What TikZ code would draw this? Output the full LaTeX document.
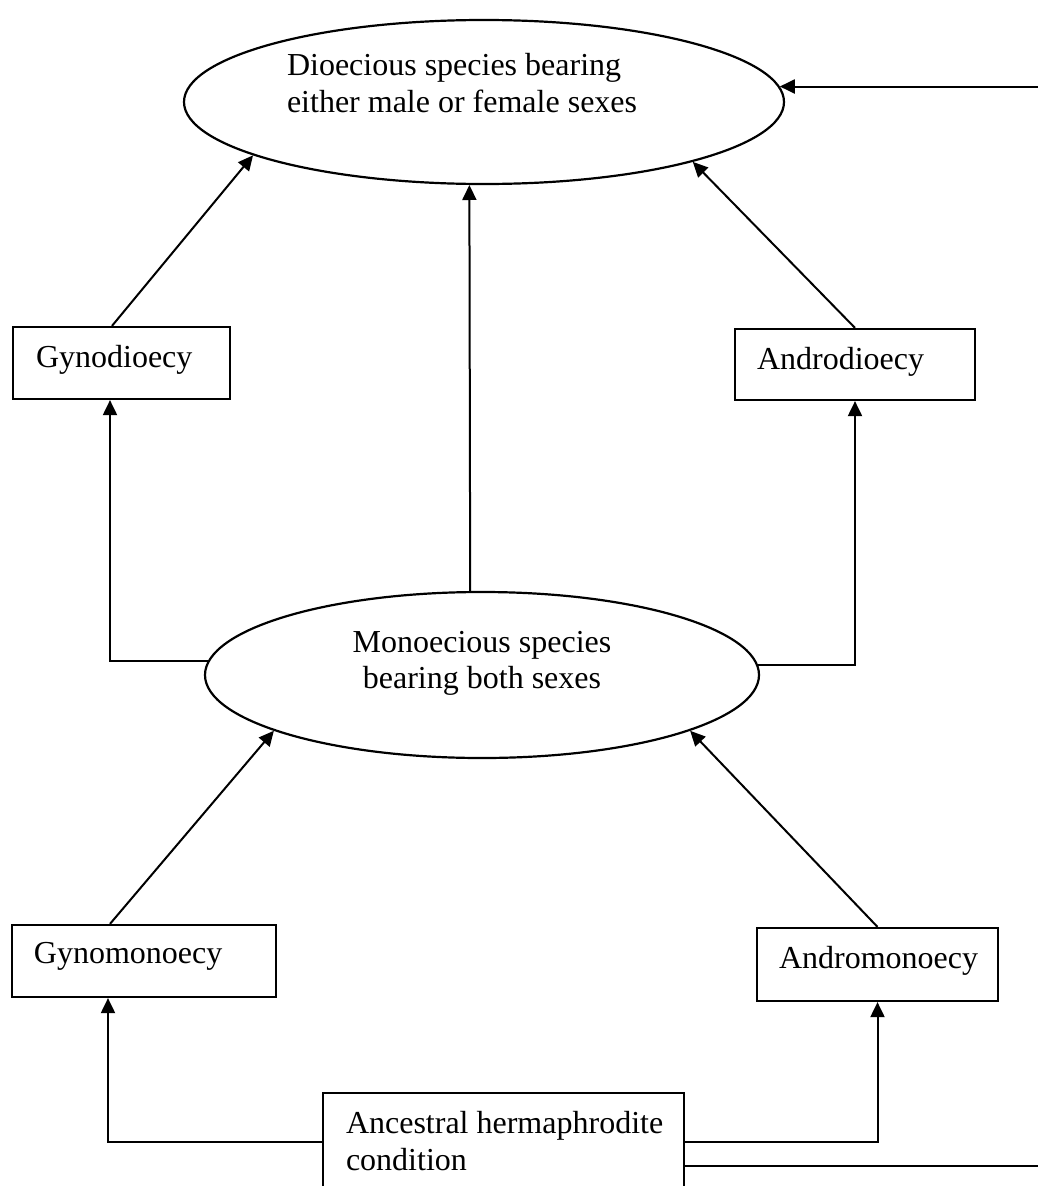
\documentclass[tikz,border=0pt]{standalone}
\usepackage{fontspec}
\setmainfont{Liberation Serif}
\usetikzlibrary{arrows.meta,shapes.geometric}
\begin{document}
\begin{tikzpicture}[x=1pt,y=-1pt,
  line width=2pt,
  arr/.style={-{Triangle[length=15pt,width=14pt]}},
  boxn/.style={draw, rectangle, inner sep=0pt, line width=2.2pt},
  ell/.style={draw, ellipse, inner sep=0pt, line width=2.2pt},
  lbl/.style={inner sep=0pt, font=\fontsize{32}{37}\selectfont}]
\useasboundingbox (0,0) rectangle (1038,1186);
\clip (0,0) rectangle (1038,1186);
\fill[white] (0,0) rectangle (1038,1186);

% shapes
\node[ell, minimum width=600pt, minimum height=164pt] (dio) at (484,102) {};
\node[ell, minimum width=554pt, minimum height=166pt] (mon) at (482,675) {};
\node[boxn, minimum width=217pt, minimum height=72pt] (gyd) at (121.5,363) {};
\node[boxn, minimum width=240pt, minimum height=71pt] (add) at (855,364.5) {};
\node[boxn, minimum width=264pt, minimum height=72pt] (gym) at (144,961) {};
\node[boxn, minimum width=241pt, minimum height=73pt] (adm) at (877.5,964.5) {};
\node[boxn, minimum width=361pt, minimum height=97pt] (anc) at (503.5,1141.5) {};

% texts
\node[lbl, anchor=base west] (dioA) at (286,75) {Dioecious species bearing};
\node[lbl, anchor=base west] (dioB) at (286,112) {either male or female sexes};
\node[lbl, anchor=base] (monA) at (482,652) {Monoecious species};
\node[lbl, anchor=base] (monB) at (482,688) {bearing both sexes};
\node[lbl, anchor=base west] (gydT) at (35,367) {Gynodioecy};
\node[lbl, anchor=base west] (addT) at (756,369) {Androdioecy};
\node[lbl, anchor=base west] (gymT) at (33,963) {Gynomonoecy};
\node[lbl, anchor=base west] (admT) at (778,968) {Andromonoecy};
\node[lbl, anchor=base west] (ancA) at (345,1133) {Ancestral hermaphrodite};
\node[lbl, anchor=base west] (ancB) at (345,1170) {condition};

% connectors
\coordinate (re) at (1038,0);
\coordinate (br) at (1038,1166);
\draw[arr] (dio.3 -| re) -- (dio.3);
\draw[arr] ([xshift=-9.5pt]gyd.north) -- (dio.193);
\draw[arr] (add.north) -- (dio.344);
\draw[arr] (mon.98.2) -- (dio.260.2);
\draw[arr] (mon.177.3) -| ([xshift=-11.5pt]gyd.south);
\draw[arr] (mon.2.3) -| (add.south);
\draw[arr] ([xshift=-34pt]gym.north) -- (mon.195);
\draw[arr] (adm.north) -- (mon.345);
\draw[arr] (anc.west) -| ([xshift=-36pt]gym.south);
\draw[arr] (anc.east) -| (adm.south);
\draw ([yshift=-24.5pt]anc.east) -- (br);
\end{tikzpicture}
\end{document}
